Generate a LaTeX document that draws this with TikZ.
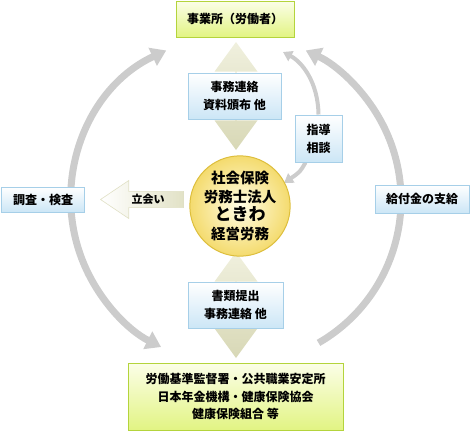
\documentclass[tikz,border=0pt]{standalone}
\usepackage{fontspec}
\setmainfont{Noto Sans CJK JP}
\usetikzlibrary{arrows.meta,shapes.arrows,backgrounds,calc}

\definecolor{greenLine}{HTML}{B4D43C}
\definecolor{greenTop}{HTML}{FBFEE8}
\definecolor{greenBot}{HTML}{E2F483}
\definecolor{blueLine}{HTML}{A6CFE8}
\definecolor{blueBot}{HTML}{CCE6F6}
\definecolor{beigeTop}{HTML}{F0F0DE}
\definecolor{beigeBot}{HTML}{D8D8B6}
\definecolor{goldLine}{HTML}{DDBE3C}
\definecolor{goldIn}{HTML}{FFFDE6}
\definecolor{goldOut}{HTML}{F4DB6E}
\definecolor{arcGray}{HTML}{CCCCCC}

\begin{document}
\begin{tikzpicture}[x=1pt, y=-1pt,
    greenbox/.style={rectangle, draw=greenLine, line width=1pt, top color=greenTop, bottom color=greenBot,
        align=center, inner sep=0pt, font=\bfseries\fontsize{12}{17.5}\selectfont},
    bluebox/.style={rectangle, draw=blueLine, line width=1pt, top color=white, bottom color=blueBot,
        align=center, inner sep=0pt, font=\bfseries\fontsize{12}{18}\selectfont},
    hubcircle/.style={circle, draw=goldLine, line width=1pt, inner color=goldIn, outer color=goldOut,
        minimum size=87, inner sep=0pt, align=center, font=\bfseries\fontsize{14.5}{18.5}\selectfont},
    twoway/.style={double arrow, shape border rotate=90, top color=beigeTop, bottom color=beigeBot,
        minimum width=43, double arrow head extend=8, double arrow tip angle=72, inner sep=0pt},
    flow/.style={draw=arcGray, line width=7pt},
    guideflow/.style={draw=arcGray, line width=4pt},
    bigtip/.tip={Triangle[width=19pt, length=15pt]},
    smalltip/.tip={Triangle[width=11pt, length=9pt]}
]
    \useasboundingbox (0,0) rectangle (470,431);

    % block arrows behind the boxes
    \node[twoway, minimum height=108] (upArrow) at (236,96) {};
    \node[twoway, minimum height=106] (downArrow) at (236,305) {};

    % boxes
    \node[greenbox, minimum width=118, minimum height=36] (office) at (235,19) {事業所（労働者）};
    \node[bluebox, minimum width=93, minimum height=46] (contact) at (234.5,96) {事務連絡\\資料頒布 他};
    \node[bluebox, minimum width=47, minimum height=47] (guide) at (318.5,138.5) {指導\\相談};
    \node[hubcircle] (firm) at (240,206) {社会保険\\労務士法人\\{\fontsize{17}{20}\selectfont ときわ}\\経営労務};
    \node[bluebox, minimum width=95, minimum height=46] (filing) at (235.5,305) {書類提出\\事務連絡 他};
    \node[greenbox, minimum width=215, minimum height=67] (agency) at (235.5,396.5)
        {労働基準監督署・公共職業安定所\\日本年金機構・健康保険協会\\健康保険組合 等};
    \node[bluebox, minimum width=83, minimum height=25] (survey) at (43,199.5) {調査・検査};
    \node[bluebox, minimum width=94, minimum height=28] (benefit) at (422,199) {給付金の支給};

    \node[single arrow, shape border rotate=180, anchor=tip, draw=beigeBot!80, line width=0.6pt,
        left color=white, right color=beigeTop!40!beigeBot,
        minimum height=83, minimum width=38, single arrow head extend=7.5, single arrow tip angle=68,
        inner sep=0pt, font=\bfseries\fontsize{11}{13}\selectfont] (attend) at (100,199.5) {立会い};

    % connectors
    \coordinate (hub) at (236,200);
    \coordinate (leftTop) at ($(hub)+(-115:165)$);
    \coordinate (rightLow) at ($(hub)+(60:165)$);
    \coordinate (g1) at (283,52);
    \coordinate (g2) at (284,183);
    \begin{scope}[on background layer]
        \draw[flow, bigtip-bigtip] (leftTop) arc[start angle=-115, end angle=-243, radius=165];
        \draw[flow, -bigtip] (rightLow) arc[start angle=60, end angle=-65, radius=165];
        \draw[guideflow, -smalltip] (guide.north) .. controls (318,82) and (302,62) .. (g1);
        \draw[guideflow, -smalltip] ([xshift=11pt]guide.south west) .. controls (300,172) .. (g2);
    \end{scope}
\end{tikzpicture}
\end{document}
